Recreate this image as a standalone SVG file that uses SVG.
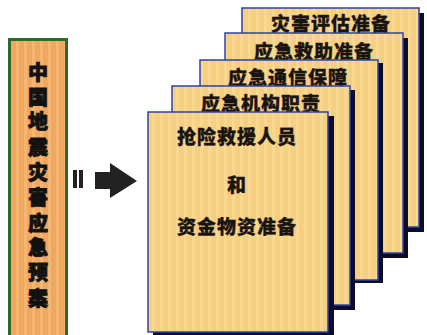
<svg xmlns="http://www.w3.org/2000/svg" width="427" height="335" viewBox="0 0 427 335">
<style>
.card{fill:url(#tan);stroke:#2a44a8;stroke-width:1.5}
.shadow{fill:#0c0c2a}
.lbl{font-family:"Noto Sans CJK SC","Noto Sans",sans-serif;font-weight:900;font-size:19px;letter-spacing:1px;fill:#1a1410;stroke:#1a1410;stroke-width:0.3;text-anchor:middle;dominant-baseline:central}
.vt{font-family:"Noto Sans CJK SC","Noto Sans",sans-serif;font-weight:900;font-size:20px;fill:#111;stroke:#111;stroke-width:0.8;writing-mode:vertical-rl;text-anchor:start}
</style>
<defs>
<pattern id="tan" width="8" height="10" patternUnits="userSpaceOnUse">
<rect width="8" height="10" fill="#f7cf80"/>
<rect x="0" width="3" height="10" fill="#f9d892"/>
</pattern>
<pattern id="org" width="8" height="10" patternUnits="userSpaceOnUse">
<rect width="8" height="10" fill="#f0a85e"/>
<rect x="0" width="3" height="10" fill="#f4b672"/>
</pattern>
</defs>
<rect width="427" height="335" fill="#ffffff"/>
<g id="plan">
<rect x="9.5" y="39.5" width="57" height="300" fill="url(#org)" stroke="#2d6a2d" stroke-width="3"/>
<text class="vt" x="38" y="62">中</text>
<text class="vt" x="38" y="87">国</text>
<text class="vt" x="38" y="111">地</text>
<text class="vt" x="38" y="137">震</text>
<text class="vt" x="38" y="162">灾</text>
<text class="vt" x="38" y="187">害</text>
<text class="vt" x="38" y="213">应</text>
<text class="vt" x="38" y="237">急</text>
<text class="vt" x="38" y="262">预</text>
<text class="vt" x="38" y="288">案</text>
</g>
<g id="connectors">
<rect x="73" y="170" width="4" height="18" fill="#222"/>
<rect x="79" y="170" width="4" height="18" fill="#222"/>
<polygon points="95,172 110,172 110,163 137,181 110,198 110,189 95,189" fill="#222"/>
</g>
<g id="card5">
<rect class="shadow" x="247" y="13" width="177" height="219"/>
<rect class="card" x="242" y="8" width="177" height="219"/>
<text class="lbl" x="331" y="22">灾害评估准备</text>
</g>
<g id="card4">
<rect class="shadow" x="230" y="38" width="178" height="220"/>
<rect class="card" x="225" y="33" width="178" height="220"/>
<text class="lbl" x="314" y="50">应急救助准备</text>
</g>
<g id="card3">
<rect class="shadow" x="205" y="63" width="178" height="220"/>
<rect class="card" x="200" y="60" width="178" height="220"/>
<text class="lbl" x="288" y="76">应急通信保障</text>
</g>
<g id="card2">
<rect class="shadow" x="177" y="90" width="178" height="220"/>
<rect class="card" x="172" y="86" width="178" height="219"/>
<text class="lbl" x="261" y="102">应急机构职责</text>
</g>
<g id="card1">
<rect class="shadow" x="153" y="116" width="181" height="222"/>
<rect class="card" x="148" y="112" width="180" height="220"/>
<text class="lbl" x="237" y="135">抢险救援人员</text>
<text class="lbl" x="237" y="183">和</text>
<text class="lbl" x="237" y="225">资金物资准备</text>
</g>
</svg>
